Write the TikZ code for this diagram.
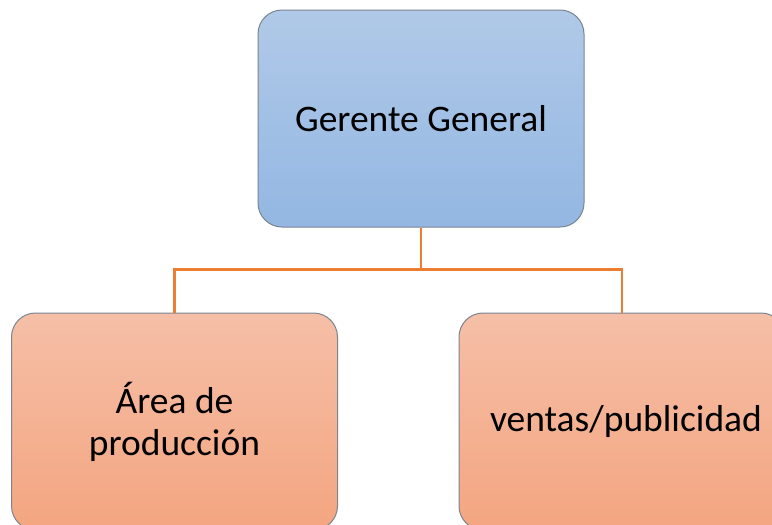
\documentclass[tikz,border=0pt]{standalone}
\usepackage{fontspec}
\setmainfont{Carlito}
\usetikzlibrary{calc}
\definecolor{bluetop}{HTML}{B0C9E8}
\definecolor{bluebot}{HTML}{93B7E2}
\definecolor{orgtop}{HTML}{F5BFA7}
\definecolor{orgbot}{HTML}{F4A580}
\definecolor{edgegray}{HTML}{7A8590}
\definecolor{conn}{HTML}{ED7D31}
\tikzset{
  box/.style={rectangle, rounded corners=24pt, draw=edgegray, line width=1pt,
    minimum width=326pt, minimum height=217pt, align=center,
    font=\fontsize{37.5}{42}\selectfont, text=black},
  bluebox/.style={box, top color=bluetop, bottom color=bluebot},
  orangebox/.style={box, top color=orgtop, bottom color=orgbot},
  link/.style={draw=conn, line width=2.3pt}
}
\begin{document}
\begin{tikzpicture}[x=1pt,y=-1pt]
\useasboundingbox (0,0) rectangle (772,525);
\clip (0,0) rectangle (772,525);
\fill[white] (0,0) rectangle (772,525);
\node[bluebox] (gg) at (421,118.5) {Gerente General};
\node[orangebox] (ap) at (174.5,421.5) {Área de\\producción};
\node[orangebox] (vp) at (622,421.5) {\hspace{8pt}ventas/publicidad};
\coordinate (mid) at ($(gg.south)+(0,42)$);
\draw[link] (gg.south) -- (mid) -| (ap.north);
\draw[link] (mid) -| (vp.north);
\end{tikzpicture}
\end{document}
